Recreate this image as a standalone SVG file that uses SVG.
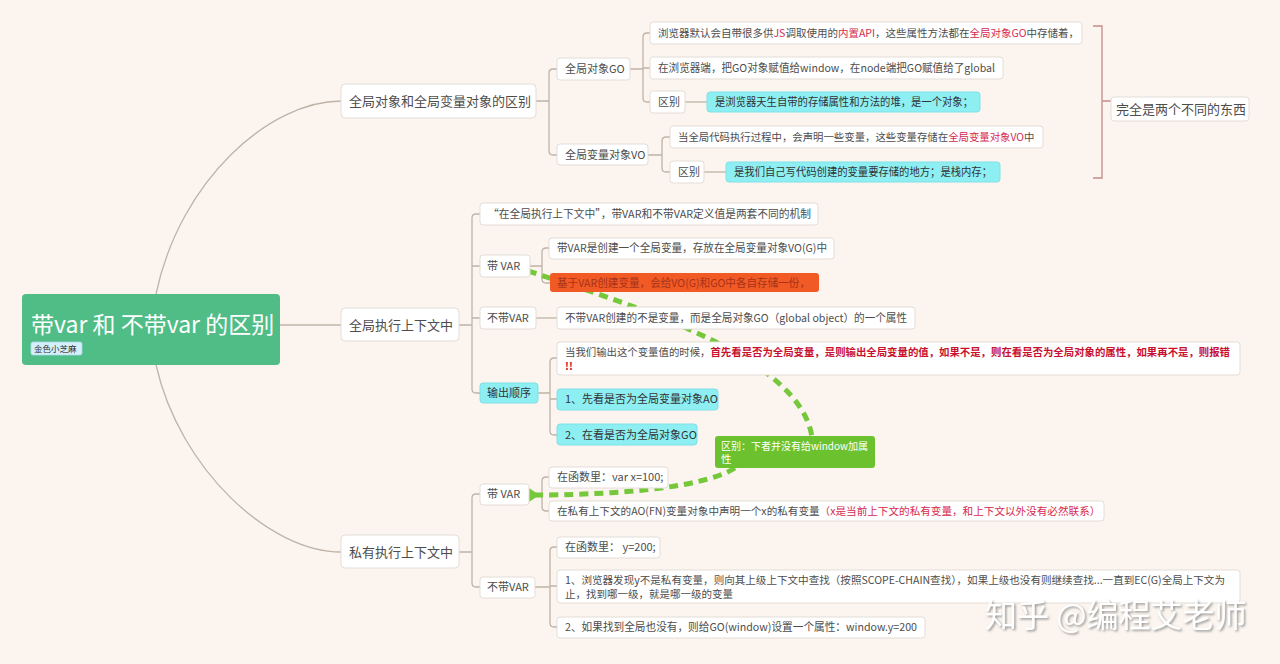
<svg xmlns="http://www.w3.org/2000/svg" width="1280" height="664" viewBox="0 0 1280 664">
<defs>
<style>
.box{fill:#fff;stroke:#e3ddd7;stroke-width:1}
.cyb{fill:#8eeff3;stroke:#7fdfe5;stroke-width:1}
.t{font-family:'Noto Sans CJK SC','Noto Sans',sans-serif;font-size:11px;fill:#4d4d4d}
.l1{font-size:13px}
.red{fill:#d62a4f}
.bred{fill:#c8102e;font-weight:bold}
.c{fill:none;stroke:#bfb3a8;stroke-width:1.3}
.dash{fill:none;stroke:#74c83a;stroke-width:5;stroke-dasharray:9 6}
</style>
<marker id="chev" viewBox="0 0 10 10" refX="2" refY="5" markerWidth="4" markerHeight="4" orient="auto-start-reverse" markerUnits="strokeWidth">
<path d="M8 1 L2 5 L8 9" fill="none" stroke="#74c83a" stroke-width="3"/>
</marker>
<filter id="sh" x="-5%" y="-20%" width="110%" height="140%">
<feDropShadow dx="1.5" dy="1.5" stdDeviation="0.8" flood-color="#8a8a8a" flood-opacity="0.9"/>
</filter>
</defs>
<rect width="1280" height="664" fill="#fcf5ef"/>

<g id="connectors">
<path class="c" d="M156 294 C180 180 270 101 341 101"/>
<path class="c" d="M156 365 C180 470 270 552 341 552"/>
<path class="c" d="M280 325 H341"/>
<path class="c" d="M536 101 H549 M549 101 V73 Q549 69 553 69 H557 M549 101 V151 Q549 155 553 155 H557"/>
<path class="c" d="M630 69 H643 M643 69 V37 Q643 33 647 33 H650 M643 68 H650 M643 69 V98 Q643 102 647 102 H650"/>
<path class="c" d="M685 102 H707"/>
<path class="c" d="M648 155 H662 M662 155 V141 Q662 137 666 137 H670 M662 155 V168 Q662 172 666 172 H670"/>
<path class="c" d="M704 172 H726"/>
<path d="M1093 26 H1102 V178 H1093 M1102 101 H1111" fill="none" stroke="#c68a8a" stroke-width="1.3"/>
<path class="c" d="M459 325 H472 M472 325 V218 Q472 214 476 214 H480 M472 266 H480 M472 318 H480 M472 325 V389 Q472 393 476 393 H480"/>
<path class="c" d="M530 266 H542 M542 266 V252 Q542 248 546 248 H549 M542 266 V279 Q542 283 546 283 H550"/>
<path class="c" d="M536 318 H557"/>
<path class="c" d="M538 393 H550 M550 393 V362 Q550 358 554 358 H557 M550 399 H557 M550 393 V431 Q550 435 554 435 H557"/>
<path class="c" d="M459 552 H472 M472 552 V498 Q472 494 476 494 H480 M472 552 V583 Q472 587 476 587 H480"/>
<path class="c" d="M529 494 H542 M542 494 V481 Q542 477 546 477 H549 M542 494 V507 Q542 511 546 511 H549"/>
<path class="c" d="M535 587 H550 M550 587 V551 Q550 547 554 547 H557 M550 586 H557 M550 587 V623 Q550 627 554 627 H557"/>
<path class="dash" d="M528 271 C650 310 800 360 812 437"/>
<path class="dash" d="M735 468 C700 490 600 495 534 495" marker-end="url(#chev)"/>
</g>

<g id="root">
<rect x="22" y="294" width="258" height="71" rx="4" fill="#50bd87"/>
<text x="31" y="333" class="t" style="font-size:23px;fill:#fff">带var 和 不带var 的区别</text>
<rect x="31" y="342" width="51" height="13" rx="2" fill="#d4f0fb" stroke="#a9d9ee" stroke-width="0.8"/>
<text x="34" y="352" class="t" style="font-size:8.5px;fill:#333">金色小芝麻</text>
</g>

<g id="n-global-obj">
<rect class="box" x="341" y="84" width="195" height="34" rx="4"/>
<text class="t l1" x="349" y="106">全局对象和全局变量对象的区别</text>
</g>
<g id="n-go">
<rect class="box" x="557" y="58" width="73" height="22" rx="3"/>
<text class="t" x="565" y="73">全局对象GO</text>
</g>
<g id="n-go-1">
<rect class="box" x="650" y="22" width="432" height="22" rx="3"/>
<text class="t" x="658" y="37" style="font-size:10.5px">浏览器默认会自带很多供<tspan class="red">JS</tspan>调取使用的<tspan class="red">内置API</tspan>，这些属性方法都在<tspan class="red">全局对象GO</tspan>中存储着，</text>
</g>
<g id="n-go-2">
<rect class="box" x="650" y="57" width="353" height="22" rx="3"/>
<text class="t" x="658" y="72" textLength="337" lengthAdjust="spacingAndGlyphs">在浏览器端，把GO对象赋值给window，在node端把GO赋值给了global</text>
</g>
<g id="n-go-3">
<rect class="box" x="650" y="91" width="35" height="22" rx="3"/>
<text class="t" x="658" y="106">区别</text>
</g>
<g id="n-go-4">
<rect class="cyb" x="707" y="92" width="273" height="20" rx="3"/>
<text class="t" x="715" y="106" style="fill:#333" textLength="258" lengthAdjust="spacingAndGlyphs">是浏览器天生自带的存储属性和方法的堆，是一个对象；</text>
</g>
<g id="n-vo">
<rect class="box" x="557" y="144" width="91" height="21" rx="3"/>
<text class="t" x="565" y="159">全局变量对象VO</text>
</g>
<g id="n-vo-1">
<rect class="box" x="670" y="126" width="373" height="22" rx="3"/>
<text class="t" x="678" y="141" style="font-size:10.4px">当全局代码执行过程中，会声明一些变量，这些变量存储在<tspan class="red">全局变量对象VO</tspan>中</text>
</g>
<g id="n-vo-2">
<rect class="box" x="670" y="161" width="34" height="22" rx="3"/>
<text class="t" x="678" y="176">区别</text>
</g>
<g id="n-vo-3">
<rect class="cyb" x="726" y="162" width="274" height="20" rx="3"/>
<text class="t" x="734" y="176" style="fill:#333" textLength="258" lengthAdjust="spacingAndGlyphs">是我们自己写代码创建的变量要存储的地方；是栈内存；</text>
</g>
<g id="n-summary">
<rect class="box" x="1111" y="97" width="138" height="24" rx="3"/>
<text class="t l1" x="1116" y="114">完全是两个不同的东西</text>
</g>

<g id="n-global-ec">
<rect class="box" x="341" y="308" width="118" height="33" rx="4"/>
<text class="t l1" x="349" y="330">全局执行上下文中</text>
</g>
<g id="n-gec-1">
<rect class="box" x="480" y="203" width="338" height="22" rx="3"/>
<text class="t" x="488" y="218" textLength="323" lengthAdjust="spacingAndGlyphs">“在全局执行上下文中”，带VAR和不带VAR定义值是两套不同的机制</text>
</g>
<g id="n-gec-var">
<rect class="box" x="480" y="255" width="50" height="22" rx="3"/>
<text class="t" x="487" y="270">带 VAR</text>
</g>
<g id="n-gec-var-1">
<rect class="box" x="549" y="238" width="285" height="21" rx="3"/>
<text class="t" x="557" y="252" textLength="270" lengthAdjust="spacingAndGlyphs">带VAR是创建一个全局变量，存放在全局变量对象VO(G)中</text>
</g>
<g id="n-gec-var-2">
<rect x="550" y="273" width="269" height="19" rx="3" fill="#f15a24"/>
<text class="t" x="557" y="287" style="fill:#a8321a" textLength="253" lengthAdjust="spacingAndGlyphs">基于VAR创建变量，会给VO(G)和GO中各自存储一份，</text>
</g>
<g id="n-gec-novar">
<rect class="box" x="480" y="307" width="56" height="22" rx="3"/>
<text class="t" x="487" y="322">不带VAR</text>
</g>
<g id="n-gec-novar-1">
<rect class="box" x="557" y="307" width="358" height="22" rx="3"/>
<text class="t" x="565" y="322" textLength="342" lengthAdjust="spacingAndGlyphs">不带VAR创建的不是变量，而是全局对象GO（global object）的一个属性</text>
</g>
<g id="n-order">
<rect class="cyb" x="480" y="383" width="58" height="20" rx="3"/>
<text class="t" x="487" y="397" style="fill:#333">输出顺序</text>
</g>
<g id="n-order-1">
<rect class="box" x="557" y="342" width="683" height="33" rx="3"/>
<text class="t" x="565" y="356" style="font-size:10.4px">当我们输出这个变量值的时候，<tspan class="bred">首先看是否为全局变量，是则输出全局变量的值，如果不是，则在看是否为全局对象的属性，如果再不是，则报错</tspan></text>
<text class="t bred" x="565" y="370" style="font-size:10.5px">!!</text>
</g>
<g id="n-order-2">
<rect class="cyb" x="557" y="389" width="161" height="21" rx="3"/>
<text class="t" x="565" y="403" style="fill:#333">1、先看是否为全局变量对象AO</text>
</g>
<g id="n-order-3">
<rect class="cyb" x="557" y="424" width="140" height="21" rx="3"/>
<text class="t" x="565" y="439" style="fill:#333">2、在看是否为全局对象GO</text>
</g>
<g id="n-callout">
<rect x="715" y="436" width="160" height="32" rx="3" fill="#6cc22e"/>
<text class="t" x="721" y="450" style="fill:#fff;font-size:10.5px" textLength="147" lengthAdjust="spacingAndGlyphs">区别：下者并没有给window加属</text>
<text class="t" x="721" y="463" style="fill:#fff;font-size:10.5px">性</text>
</g>

<g id="n-private-ec">
<rect class="box" x="341" y="535" width="118" height="33" rx="4"/>
<text class="t l1" x="349" y="557">私有执行上下文中</text>
</g>
<g id="n-pec-var">
<rect class="box" x="480" y="484" width="49" height="21" rx="3"/>
<text class="t" x="487" y="498">带 VAR</text>
</g>
<g id="n-pec-var-1">
<rect class="box" x="549" y="467" width="119" height="21" rx="3"/>
<text class="t" x="557" y="481">在函数里：var x=100;</text>
</g>
<g id="n-pec-var-2">
<rect class="box" x="549" y="501" width="555" height="20" rx="3"/>
<text class="t" x="557" y="515" style="font-size:10.6px">在私有上下文的AO(FN)变量对象中声明一个x的私有变量<tspan class="red">（x是当前上下文的私有变量，和上下文以外没有必然联系）</tspan></text>
</g>
<g id="n-pec-novar">
<rect class="box" x="480" y="577" width="55" height="21" rx="3"/>
<text class="t" x="487" y="591">不带VAR</text>
</g>
<g id="n-pec-novar-1">
<rect class="box" x="557" y="537" width="103" height="21" rx="3"/>
<text class="t" x="565" y="551">在函数里： y=200;</text>
</g>
<g id="n-pec-novar-2">
<rect class="box" x="557" y="570" width="683" height="33" rx="3"/>
<text class="t" x="565" y="584" style="font-size:10.5px" textLength="660" lengthAdjust="spacingAndGlyphs">1、浏览器发现y不是私有变量，则向其上级上下文中查找（按照SCOPE-CHAIN查找），如果上级也没有则继续查找...一直到EC(G)全局上下文为</text>
<text class="t" x="565" y="598" style="font-size:10.5px">止，找到哪一级，就是哪一级的变量</text>
</g>
<g id="n-pec-novar-3">
<rect class="box" x="557" y="617" width="368" height="21" rx="3"/>
<text class="t" x="565" y="631" textLength="352" lengthAdjust="spacingAndGlyphs">2、如果找到全局也没有，则给GO(window)设置一个属性：window.y=200</text>
</g>

<text x="985" y="627" filter="url(#sh)" style="font-family:'Noto Sans CJK SC',sans-serif;font-size:32px;fill:#ffffff">知乎 @编程艾老师</text>
</svg>
